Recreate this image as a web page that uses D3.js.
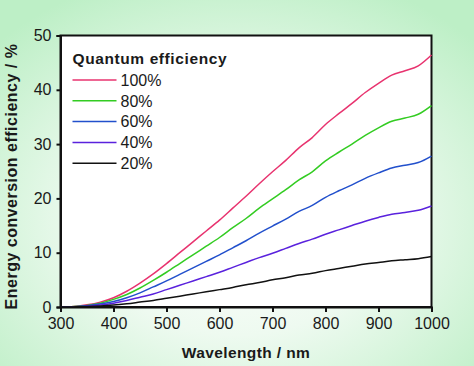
<!DOCTYPE html>
<html><head><meta charset="utf-8">
<script src="https://cdn.jsdelivr.net/npm/d3@7"></script>
<style>html,body{margin:0;padding:0;overflow:hidden;}svg{display:block;}</style>
</head><body>
<script>
const wavelengths = [300,325,350,375,400,425,450,475,500,525,550,575,600,625,650,675,700,725,750,775,800,825,850,875,900,925,950,975,1000];
const qe100 = [0,0.1,0.4,0.9,1.7,2.9,4.4,6.1,8.0,10.0,12.0,14.0,16.0,18.2,20.4,22.7,24.9,27.0,29.3,31.2,33.6,35.6,37.5,39.5,41.2,42.7,43.5,44.4,46.4];
const qe80  = [0,0.08,0.3,0.7,1.4,2.3,3.5,4.9,6.4,8.0,9.6,11.2,12.8,14.6,16.3,18.2,19.9,21.6,23.4,24.9,26.9,28.5,30.0,31.6,33.0,34.2,34.8,35.5,37.1];
const qe60  = [0,0.06,0.24,0.54,1.0,1.7,2.6,3.7,4.8,6.0,7.2,8.4,9.6,10.9,12.2,13.6,14.9,16.2,17.6,18.7,20.2,21.4,22.5,23.7,24.7,25.6,26.1,26.6,27.8];
const qe40  = [0,0.04,0.16,0.36,0.7,1.2,1.8,2.4,3.2,4.0,4.8,5.6,6.4,7.3,8.2,9.1,9.9,10.8,11.7,12.5,13.4,14.2,15.0,15.8,16.5,17.1,17.4,17.8,18.6];
const qe20  = [0,0.02,0.08,0.18,0.35,0.6,0.9,1.2,1.6,2.0,2.4,2.8,3.2,3.6,4.1,4.5,5.0,5.4,5.9,6.2,6.7,7.1,7.5,7.9,8.2,8.5,8.7,8.9,9.3];
const seriesNames = ["100%","80%","60%","40%","20%"];
const seriesColors = ["#e8336f","#33cc22","#2250cc","#5a22dd","#111111"];
const xTicks = [300,400,500,600,700,800,900,1000];
const yTicks = [0,10,20,30,40,50];
const legendTitle = "Quantum efficiency";
const xTitle = "Wavelength / nm";
const yTitle = "Energy conversion efficiency / %";

const W = 474, H = 366;
const m = {left: 60.5, right: 474-431.5, top: 35.5, bottom: 366-307};
const svg = d3.select("body").append("svg").attr("width", W).attr("height", H);
const defs = svg.append("defs");
const g = defs.append("radialGradient").attr("id","bg").attr("cx","50%").attr("cy","60%").attr("r","70%");
g.append("stop").attr("offset","0%").attr("stop-color","#ffffff");
g.append("stop").attr("offset","45%").attr("stop-color","#eefaf0");
g.append("stop").attr("offset","100%").attr("stop-color","#bdefc6");
svg.append("rect").attr("width",W).attr("height",H).attr("fill","url(#bg)");

const x = d3.scaleLinear().domain([300,1000]).range([m.left, W-m.right]);
const y = d3.scaleLinear().domain([0,50]).range([H-m.bottom, m.top]);

svg.append("rect").attr("x",x(300)).attr("y",y(50)).attr("width",x(1000)-x(300)).attr("height",y(0)-y(50))
  .attr("fill","#fff").attr("stroke","#111").attr("stroke-width",2);

const data = [qe100,qe80,qe60,qe40,qe20];
const line = d3.line().x((d,i)=>x(wavelengths[i])).y(d=>y(d)).curve(d3.curveMonotoneX);
data.forEach((s,k)=>{
  svg.append("path").datum(s).attr("d",line).attr("fill","none")
    .attr("stroke",seriesColors[k]).attr("stroke-width",1.5);
});

const font = "Arial, 'Liberation Sans', sans-serif";
const xa = svg.append("g").attr("transform",`translate(0,${y(0)})`)
  .call(d3.axisBottom(x).tickValues(xTicks).tickSize(5).tickPadding(6).tickFormat(d3.format("d")));
const ya = svg.append("g").attr("transform",`translate(${x(300)},0)`)
  .call(d3.axisLeft(y).tickValues(yTicks).tickSize(4).tickPadding(5).tickFormat(d3.format("d")));
[xa,ya].forEach(a=>{
  a.select(".domain").attr("stroke","#111").attr("stroke-width",2);
  a.selectAll(".tick line").attr("stroke","#111").attr("stroke-width",2);
  a.selectAll(".tick text").attr("font-family",font).attr("font-size",16).attr("fill","#1a1a1a");
});

svg.append("text").attr("x",(x(300)+x(1000))/2).attr("y",358).attr("text-anchor","middle")
  .attr("font-family",font).attr("font-weight","bold").attr("font-size",15.5).attr("letter-spacing",0.4)
  .attr("fill","#1a1a1a").text(xTitle);
svg.append("text").attr("transform",`translate(17,176.5) rotate(-90)`).attr("text-anchor","middle")
  .attr("font-family",font).attr("font-weight","bold").attr("font-size",16).attr("letter-spacing",0.5)
  .attr("fill","#1a1a1a").text(yTitle);

const lg = svg.append("g");
lg.append("text").attr("x",72.5).attr("y",64).attr("font-family",font).attr("font-weight","bold")
  .attr("font-size",15.5).attr("letter-spacing",0.6).attr("fill","#1a1a1a").text(legendTitle);
seriesNames.forEach((n,k)=>{
  const yy = 80 + k*20.8;
  lg.append("line").attr("x1",72.5).attr("x2",116.5).attr("y1",yy).attr("y2",yy)
    .attr("stroke",seriesColors[k]).attr("stroke-width",1.5);
  lg.append("text").attr("x",120.5).attr("y",yy+5.7).attr("font-family",font).attr("font-size",16)
    .attr("fill","#1a1a1a").text(n);
});
</script>
</body></html>
